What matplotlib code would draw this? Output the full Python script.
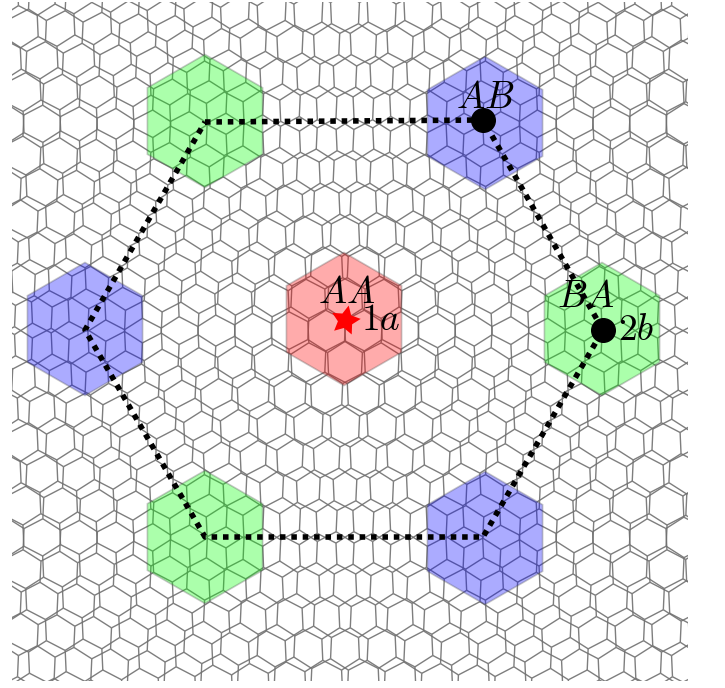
import numpy as np
import matplotlib
matplotlib.use("Agg")
import matplotlib.pyplot as plt
from matplotlib.collections import LineCollection
from matplotlib.patches import RegularPolygon, Rectangle

plt.rcParams['mathtext.fontset'] = 'cm'

# everything below is in picture pixels, measured from the AA site
lattice_a = 36.7
twist_deg = 5.04
line_gray = '#707070'

aa_centre = [(-1, 1)]
ab_centres = [(140, 197), (-260, -9), (140, -218)]
ba_centres = [(257, -9), (-140, 199), (-140, -217)]

path_x = [-140, 138, 258, 138, -140, -260, -140]
path_y = [198, 200, -10, -217, -217, -10, 198]
point_x = [138, 258]
point_y = [200, -10]

labels = [r'$AA$', r'$1a$', r'$AB$', r'$BA$', r'$2b$']
label_x = [2, 36, 140, 241, 291]
label_y = [27, 0, 222, 23, -10]


def layer_edges(angle, nmax=22):
    side = lattice_a / np.sqrt(3)
    a1 = np.array([lattice_a, 0.0])
    a2 = np.array([lattice_a / 2, lattice_a * np.sqrt(3) / 2])
    bonds = side * np.array([[0, -1], [np.sqrt(3) / 2, 0.5], [-np.sqrt(3) / 2, 0.5]])
    c, s = np.cos(np.radians(angle)), np.sin(np.radians(angle))
    rot = np.array([[c, -s], [s, c]])
    # the layers turn about the middle of the bond below the AA atom
    pivot = np.array([0, -side / 2])
    segs = []
    for i in range(-nmax, nmax + 1):
        for j in range(-nmax, nmax + 1):
            p = i * a1 + j * a2
            for b in bonds:
                segs.append([pivot + rot @ (p - pivot), pivot + rot @ (p + b - pivot)])
    return np.array(segs)


fig = plt.figure(figsize=(7.25, 6.88), dpi=100)
ax = fig.add_axes([0, 0, 1, 1])
ax.set_xlim(-345, 380)
ax.set_ylim(-368, 320)
ax.axis('off')

clip = Rectangle((-333, -361), 676, 679, transform=ax.transData)
for ang in [twist_deg / 2, -twist_deg / 2]:
    lc = LineCollection(layer_edges(ang), colors=line_gray, linewidths=1.0, alpha=0.9, zorder=1)
    ax.add_collection(lc)
    lc.set_clip_path(clip)

for centres, col in [(aa_centre, 'red'), (ab_centres, 'blue'), (ba_centres, 'lime')]:
    for x, y in centres:
        ax.add_patch(RegularPolygon((x, y), 6, radius=66.5, facecolor=col, alpha=0.33,
                                    edgecolor='#555555', linewidth=1.2, zorder=2))

ax.plot(path_x, path_y, color='black', lw=4.0, linestyle=(0, (1, 1.05)), zorder=3)
ax.plot(point_x, point_y, 'o', color='black', ms=17, zorder=4)
ax.plot([0], [0], marker=(5, 1, -12), color='red', ms=22, mew=0, zorder=4)

for t, x, y in zip(labels, label_x, label_y):
    ax.text(x, y, t, fontsize=27, ha='center', va='center', color='black', zorder=5)

fig.savefig('out.png', dpi=100)
